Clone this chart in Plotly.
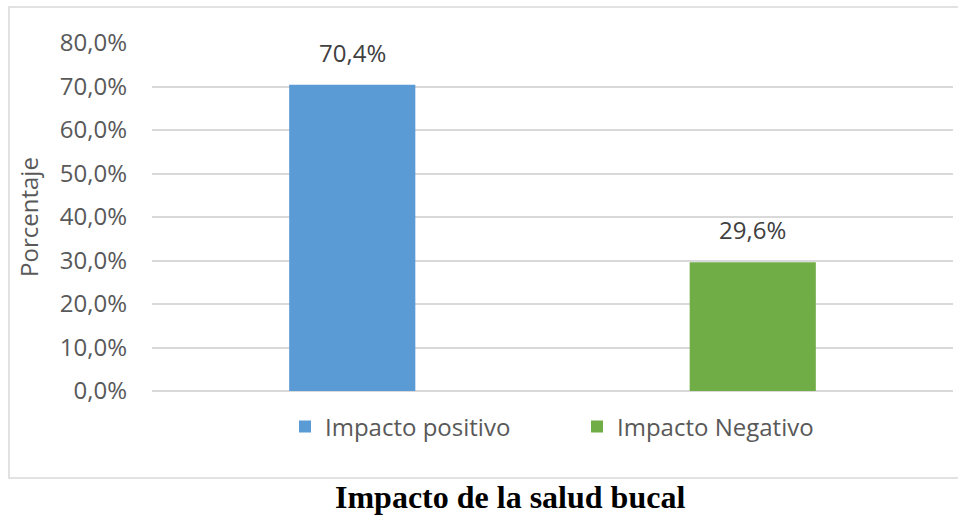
import plotly.graph_objects as go

categories = ["Impacto positivo", "Impacto Negativo"]
values = [0.704, 0.296]
colors = ["#5B9BD5", "#70AD47"]
y_ticks = [0, 0.1, 0.2, 0.3, 0.4, 0.5, 0.6, 0.7, 0.8]

W, H = 958, 515
L, R, T, B = 152, 5, 43, 124
pw, ph = W - L - R, H - T - B

def px_x(x):
    return (x - L) / pw

def px_y(y):
    return (H - B - y) / ph

fig = go.Figure()
for cat, v, c in zip(categories, values, colors):
    fig.add_trace(go.Bar(
        x=[cat], y=[v], name=cat, marker=dict(color=c, line=dict(width=0)),
        width=0.315, hoverinfo="skip",
    ))
    fig.add_annotation(
        x=cat, y=v, text=f"{v*100:.1f}%".replace(".", ","), showarrow=False,
        yanchor="bottom", yshift=14, font=dict(family="Open Sans", size=24, color="#404040"),
    )

fig.add_shape(
    type="rect", xref="paper", yref="paper",
    x0=px_x(9), x1=px_x(970), y0=px_y(478), y1=px_y(7),
    line=dict(color="#d9d9d9", width=1.5), fillcolor="rgba(0,0,0,0)", layer="below",
)

fig.add_annotation(
    xref="paper", yref="paper", x=px_x(510), y=px_y(497), text="<b>Impacto de la salud bucal</b>",
    showarrow=False, xanchor="center", yanchor="middle",
    font=dict(family="Liberation Serif", size=32, color="#000000"),
)

fig.update_layout(
    width=W, height=H,
    margin=dict(l=L, r=R, t=T, b=B),
    paper_bgcolor="white", plot_bgcolor="white",
    barmode="overlay",
    separators=",.",
    font=dict(family="Open Sans", size=24, color="#595959"),
    showlegend=True,
    legend=dict(
        orientation="h", x=px_x(577), xanchor="center", y=px_y(427), yanchor="middle",
        font=dict(family="Open Sans", size=24, color="#595959"),
        entrywidth=247, entrywidthmode="pixels",
        bgcolor="rgba(0,0,0,0)",
    ),
    xaxis=dict(
        showticklabels=False, showgrid=False, zeroline=False, showline=False,
        categoryorder="array", categoryarray=categories, range=[-0.5, 1.5],
    ),
    yaxis=dict(
        range=[0, 0.8], tickvals=y_ticks, tickformat=".1%",
        showgrid=True, gridcolor="#d9d9d9", gridwidth=1.5,
        zeroline=True, zerolinecolor="#d9d9d9", zerolinewidth=1.5,
        showline=False, ticks="", ticklabelstandoff=24,
        tickfont=dict(family="Open Sans", size=24, color="#595959"),
        title=dict(text="Porcentaje", standoff=14,
                   font=dict(family="Open Sans", size=24, color="#595959")),
    ),
)

fig.write_html("out.html")
